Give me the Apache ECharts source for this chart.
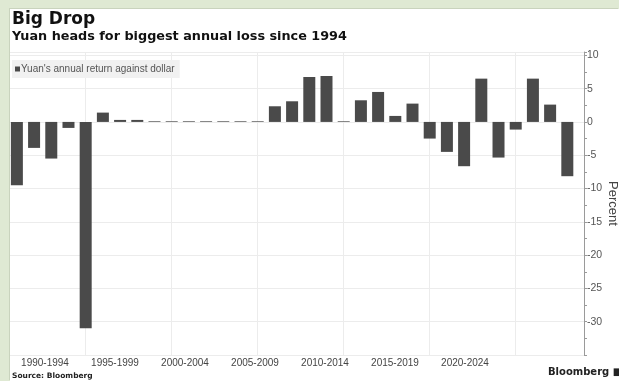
<!DOCTYPE html>
<html>
<head>
<meta charset="utf-8">
<script src="https://cdn.jsdelivr.net/npm/echarts@6/dist/echarts.min.js"></script>
<style>
  html, body { margin: 0; padding: 0; width: 619px; height: 381px; overflow: hidden; background: #dfe9d3; }
  #chart { position: absolute; left: 10px; top: 9px; width: 609px; height: 372px; background: #ffffff;
           box-shadow: -1px -1px 0 #c9d3bd; }
</style>
</head>
<body>
<div id="chart"></div>
<script>
// Calendar years shown as bars
const years = [1990, 1991, 1992, 1993, 1994, 1995, 1996, 1997, 1998, 1999,
               2000, 2001, 2002, 2003, 2004, 2005, 2006, 2007, 2008, 2009,
               2010, 2011, 2012, 2013, 2014, 2015, 2016, 2017, 2018, 2019,
               2020, 2021, 2022];
// Yuan's annual return against the dollar, percent
const returns = [-9.5, -3.9, -5.5, -0.9, -31.0, 1.4, 0.3, 0.3, 0.1, 0.1,
                 0.1, 0.1, 0.1, 0.1, 0.1, 2.35, 3.1, 6.75, 6.9, 0.1,
                 3.25, 4.5, 0.9, 2.75, -2.5, -4.5, -6.65, 6.5, -5.35, -1.15,
                 6.5, 2.6, -8.15];
// Five-year period labels along the bottom
const periodLabels = ['1990-1994', '1995-1999', '2000-2004', '2005-2009',
                      '2010-2014', '2015-2019', '2020-2024'];
// Years where the vertical guide lines fall
const guideYears = [1994, 1999, 2004, 2009, 2014, 2019];

const seriesName = "Yuan's annual return against dollar";
const barColor = '#4a4a4a';
const gridColor = '#ececec';
const labelFont = 'Liberation Sans, Arial, sans-serif';
const boldFont = 'DejaVu Sans, Verdana, sans-serif';

const chart = echarts.init(document.getElementById('chart'), null, { renderer: 'canvas' });

chart.setOption({
  animation: false,
  textStyle: { fontFamily: labelFont },
  title: [
    { text: 'Big Drop', left: 2, top: 2, padding: 0,
      textStyle: { fontFamily: boldFont, fontWeight: 'bold', fontSize: 17, color: '#111' } },
    { text: 'Yuan heads for biggest annual loss since 1994', left: 2, top: 21, padding: 0,
      textStyle: { fontFamily: boldFont, fontWeight: 'bold', fontSize: 12.8, color: '#111' } },
    { text: 'Source: Bloomberg', left: 2, top: 363, padding: 0,
      textStyle: { fontFamily: boldFont, fontWeight: 'bold', fontSize: 7.5, color: '#222' } },
    { text: 'Bloomberg \u25A0', left: 538, top: 358, padding: 0,
      textStyle: { fontFamily: boldFont, fontWeight: 'bold', fontSize: 10, color: '#222' } }
  ],
  legend: {
    left: 2, top: 51,
    padding: [4, 5, 4, 3],
    backgroundColor: '#f1f1f1',
    icon: 'rect', itemWidth: 5, itemHeight: 5, itemGap: 2,
    textStyle: { fontSize: 10, color: '#555', padding: [0, 0, 0, -4] },
    data: [seriesName]
  },
  grid: [
    { left: 0, right: 35, top: 43, bottom: 26, containLabel: false, outerBoundsMode: 'none' },
    { left: 0, width: 490, top: 43, bottom: 26, containLabel: false, outerBoundsMode: 'none' }
  ],
  xAxis: [
    {
      type: 'value', gridIndex: 0,
      min: 1989.6, max: 2022.97,
      axisLine: { show: false }, axisTick: { show: false },
      axisLabel: { show: false }, splitLine: { show: false }
    },
    {
      type: 'category', gridIndex: 1, data: periodLabels,
      axisLine: { show: false }, axisTick: { show: false },
      splitLine: { show: false },
      axisLabel: { margin: 3, fontSize: 10, color: '#444', fontFamily: labelFont }
    }
  ],
  yAxis: [
    {
      type: 'value', gridIndex: 0, position: 'right',
      min: -35, max: 10.5, interval: 5,
      name: 'Percent', nameLocation: 'middle', nameRotate: -90, nameGap: 22,
      nameMoveOverlap: false,
      nameTextStyle: { fontSize: 13, color: '#444', fontFamily: labelFont },
      axisLine: { show: true, lineStyle: { color: '#9a9a9a', width: 1 } },
      axisTick: { show: true, inside: false, length: 3, lineStyle: { color: '#9a9a9a' } },
      minorTick: { show: true, splitNumber: 2, length: 3, lineStyle: { color: '#9a9a9a' } },
      axisLabel: { margin: 3, fontSize: 10.5, color: '#555', showMaxLabel: false, showMinLabel: false,
                   fontFamily: labelFont },
      splitLine: { show: true, lineStyle: { color: gridColor, width: 1 } }
    },
    {
      type: 'value', gridIndex: 1, show: false, min: 0, max: 1
    }
  ],
  series: [
    {
      // vertical guides at the end of each five-year period, kept behind the bars
      name: 'guides', type: 'line', xAxisIndex: 0, yAxisIndex: 0,
      data: [], silent: true, z: 1,
      markLine: {
        silent: true, symbol: 'none', z: 1,
        label: { show: false },
        lineStyle: { color: gridColor, type: 'solid', width: 1 },
        data: guideYears.map(y => ({ xAxis: y }))
      }
    },
    {
      name: seriesName,
      type: 'bar',
      xAxisIndex: 0, yAxisIndex: 0,
      barWidth: 12,
      itemStyle: { color: barColor },
      data: years.map((y, i) => [y, returns[i]]),
      z: 3
    },
    {
      name: 'periods', type: 'bar', xAxisIndex: 1, yAxisIndex: 1,
      data: periodLabels.map(() => '-'), silent: true
    }
  ]
});
</script>
</body>
</html>
